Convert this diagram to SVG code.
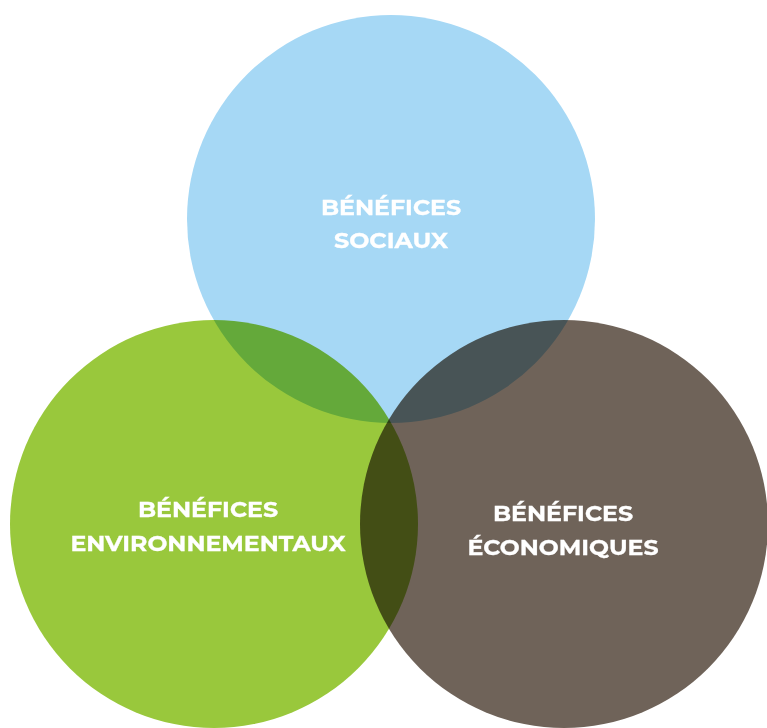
<svg xmlns="http://www.w3.org/2000/svg" width="767" height="728" viewBox="0 0 767 728">
  <style>
    .c { mix-blend-mode: multiply; }
    .t { font-family: "Montserrat", "Open Sans", "Liberation Sans", sans-serif; font-weight: bold; font-size: 21px; fill: #ffffff; stroke: #ffffff; stroke-width: 0.3; text-anchor: middle; }
  </style>
  <rect width="767" height="728" fill="#ffffff"/>
  <g id="circles">
    <g id="social"><circle class="c" cx="391" cy="219" r="204" fill="#a6d8f5"/></g>
    <g id="environment"><circle class="c" cx="214" cy="524" r="204" fill="#99c83c"/></g>
    <g id="economic"><circle class="c" cx="564" cy="524" r="204" fill="#6f6359"/></g>
  </g>
  <g id="connectors"></g>
  <g id="labels">
    <text class="t" x="391" y="215" textLength="140" lengthAdjust="spacingAndGlyphs">BÉNÉFICES</text>
    <text class="t" x="391" y="248" textLength="114" lengthAdjust="spacingAndGlyphs">SOCIAUX</text>
    <text class="t" x="208" y="517" textLength="140" lengthAdjust="spacingAndGlyphs">BÉNÉFICES</text>
    <text class="t" x="208" y="551" textLength="275" lengthAdjust="spacingAndGlyphs">ENVIRONNEMENTAUX</text>
    <text class="t" x="563" y="521" textLength="140" lengthAdjust="spacingAndGlyphs">BÉNÉFICES</text>
    <text class="t" x="563" y="555" textLength="191" lengthAdjust="spacingAndGlyphs">ÉCONOMIQUES</text>
  </g>
</svg>
